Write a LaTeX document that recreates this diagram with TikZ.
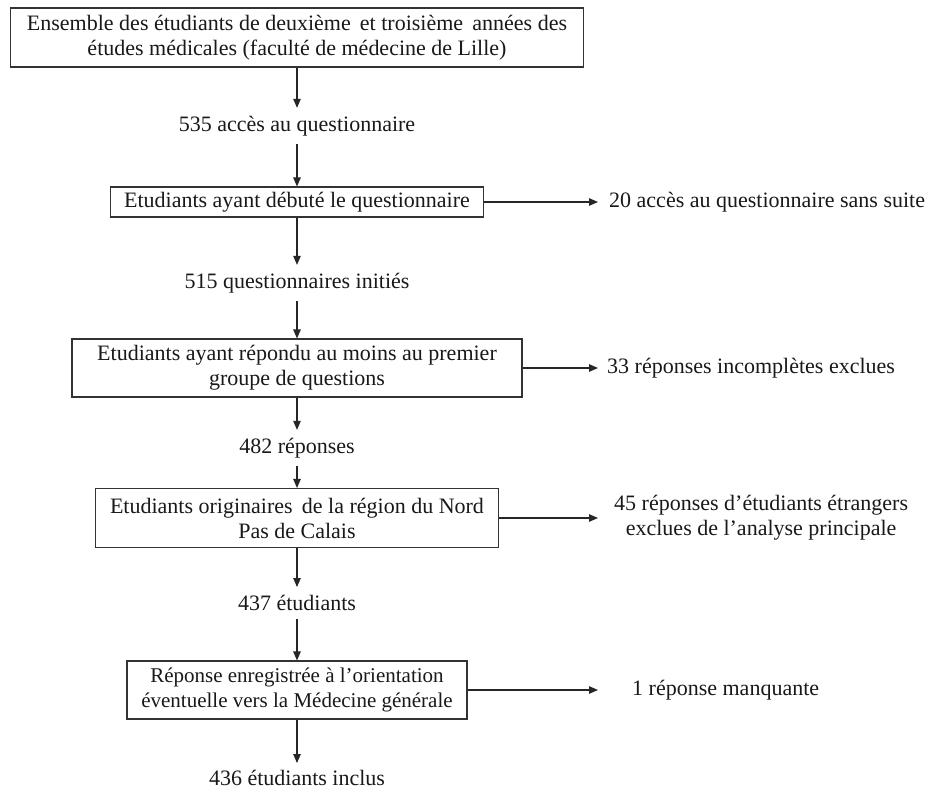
\documentclass[tikz,border=0pt]{standalone}
\usepackage{fontspec}
\setmainfont{Liberation Serif}
\usetikzlibrary{arrows.meta}
\begin{document}
\begin{tikzpicture}[x=1pt,y=-1pt,
  txt/.style={font=\fontsize{22}{25}\selectfont, text=black!90},
  box/.style={txt, draw=black!80, line width=1.1pt, align=center, inner sep=0pt},
  lbl/.style={txt, align=center, inner xsep=0pt, inner ysep=8pt},
  side/.style={txt, anchor=west, align=center, inner ysep=0pt},
  arr/.style={line width=1.1pt, draw=black!85, -{Triangle[length=9pt,width=7.5pt]}}]
\useasboundingbox[fill=white] (0,0) rectangle (930,792);

\node[box, minimum width=573pt, minimum height=59pt] (b1) at (297,37.5)
  {Ensemble des étudiants de deuxième\, et troisième\, années des\\études médicales (faculté de médecine de Lille)};
\node[lbl] (t1) at (297,126) {535 accès au questionnaire};
\node[box, minimum width=373pt, minimum height=30pt] (b2) at (297,202)
  {Etudiants ayant débuté le questionnaire};
\node[side, inner xsep=11pt] (r2) at (598,202) {20 accès au questionnaire sans suite};
\node[lbl] (t2) at (297,283) {515 questionnaires initiés};
\node[box, minimum width=450pt, minimum height=58pt] (b3) at (297,368)
  {Etudiants ayant répondu au moins au premier\\groupe de questions};
\node[side, inner xsep=9pt] (r3) at (598,368) {33 réponses incomplètes exclues};
\node[lbl] (t3) at (297,448) {482 réponses};
\node[box, minimum width=403pt, minimum height=59pt] (b4) at (297,518)
  {Etudiants originaires\, de la région du Nord\\Pas de Calais};
\node[side, inner xsep=16pt] (r4) at (598,518) {45 réponses d’étudiants étrangers\\exclues de l’analyse principale};
\node[lbl] (t4) at (297,603) {437 étudiants};
\node[box, minimum width=340pt, minimum height=58pt, font=\fontsize{21}{25}\selectfont] (b5) at (297,690)
  {Réponse enregistrée à l’orientation\\éventuelle vers la Médecine générale};
\node[side, inner xsep=34pt] (r5) at (598,690) {1 réponse manquante};
\node[lbl, inner ysep=7pt] (t5) at (297,778) {436 étudiants inclus};

\draw[arr] (b1) -- (t1);
\draw[arr] (t1) -- (b2);
\draw[arr] (b2) -- (t2);
\draw[arr] (t2) -- (b3);
\draw[arr] (b3) -- (t3);
\draw[arr] (t3) -- (b4);
\draw[arr] (b4) -- (t4);
\draw[arr] (t4) -- (b5);
\draw[arr] (b5) -- (t5);
\draw[arr] (b2.east) -- (r2.west);
\draw[arr] (b3.east) -- (r3.west);
\draw[arr] (b4.east) -- (r4.west);
\draw[arr] (b5.east) -- (r5.west);
\end{tikzpicture}
\end{document}
